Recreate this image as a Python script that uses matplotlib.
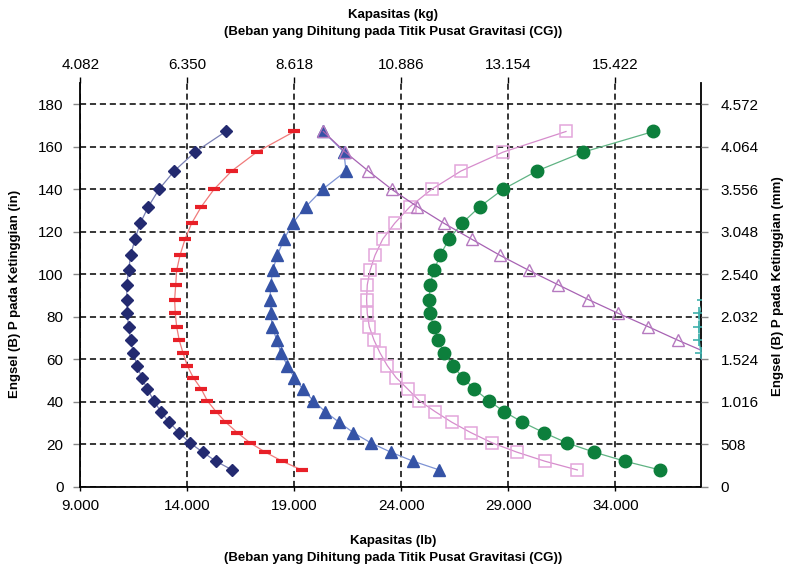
import matplotlib
matplotlib.use("Agg")
import matplotlib.pyplot as plt

# hinge heights (in) shared by all load curves, bottom to top
heights = [7.9, 12.0, 16.3, 20.6, 25.5, 30.4, 35.4, 40.5, 46.0, 51.4, 57.0, 63.0, 69.0,
           75.3, 81.6, 88.1, 95.0, 101.8, 108.9, 116.5, 124.0, 131.8, 140.0, 148.6,
           157.5, 167.2]

# capacity (lb) per curve at each height
cap_navy = [16100, 15340, 14720, 14130, 13610, 13160, 12760, 12440, 12130, 11870, 11660,
            11480, 11355, 11260, 11195, 11180, 11170, 11260, 11355, 11555, 11805, 12180,
            12680, 13390, 14360, 15795]
cap_red = [19350, 18440, 17645, 16945, 16335, 15795, 15340, 14935, 14655, 14280, 14000,
           13800, 13625, 13505, 13440, 13410, 13460, 13505, 13660, 13895, 14205, 14655,
           15250, 16075, 17245, 19000]
cap_blue = [25780, 24560, 23505, 22585, 21755, 21090, 20435, 19890, 19395, 19000, 18675,
            18380, 18180, 17975, 17900, 17865, 17900, 17990, 18205, 18520, 18925, 19535,
            20325, 21415, 21320, 20355]
cap_pink = [32225, 30715, 29395, 28255, 27245, 26355, 25575, 24840, 24300, 23755, 23345,
            23005, 22725, 22505, 22410, 22380, 22410, 22540, 22770, 23130, 23690, 24405,
            25420, 26790, 28755, 31695]
cap_green = [36090, 34455, 33005, 31745, 30655, 29655, 28800, 28085, 27410, 26870, 26400,
             26010, 25700, 25515, 25340, 25310, 25340, 25530, 25810, 26230, 26835, 27665,
             28755, 30330, 32505, 35775]

heights_purple = [63.0, 69.0, 75.3, 81.6, 88.1, 95.0, 101.8, 108.9, 116.5, 124.0, 131.8,
                  140.0, 148.6, 157.5, 167.2]
cap_purple = [38300, 36915, 35545, 34140, 32740, 31340, 29970, 28615, 27290, 25995, 24750,
              23550, 22460, 21380, 20355]

heights_teal = [63.0, 69.0, 75.3, 81.6, 88.1]
cap_teal = [37990, 37920, 37900, 37930, 38100]

# axis ticks and labels
lb_ticks = [9000, 14000, 19000, 24000, 29000, 34000]
lb_labels = ["9.000", "14.000", "19.000", "24.000", "29.000", "34.000"]
kg_labels = ["4.082", "6.350", "8.618", "10.886", "13.154", "15.422"]
in_ticks = [0, 20, 40, 60, 80, 100, 120, 140, 160, 180]
in_labels = [str(v) for v in in_ticks]
mm_labels = ["0", "508", "1.016", "1.524", "2.032", "2.540", "3.048", "3.556", "4.064", "4.572"]

plt.rcParams["font.family"] = ["Liberation Sans", "DejaVu Sans"]

fig = plt.figure(figsize=(7.89, 5.65), dpi=100)
ax = fig.add_axes([0.1017, 0.1385, 0.7867, 0.7145])

ax.set_xlim(9000, 38000)
ax.set_ylim(0, 190)

ax.grid(True, color="black", linestyle=(0, (4, 2.5)), linewidth=1.1, zorder=1)
ax.set_axisbelow(True)

series = [
    (cap_navy, heights, "#7a80b4", dict(marker="D", ms=6, mfc="#232a70", mec="#232a70")),
    (cap_red, heights, "#f07a7a", dict(marker="_", ms=9, mew=3, mec="#e82028")),
    (cap_blue, heights, "#7d93d4", dict(marker="^", ms=8, mfc="#3553a6", mec="#3553a6")),
    (cap_pink, heights, "#d68ccc", dict(marker="s", ms=8, mfc="none", mec="#e3a6db", mew=1.1)),
    (cap_green, heights, "#5fb383", dict(marker="o", ms=9, mfc="#0d7f3c", mec="#0d7f3c")),
    (cap_purple, heights_purple, "#a762b3", dict(marker="^", ms=9, mfc="none", mec="#b67ac0", mew=1.0)),
    (cap_teal, heights_teal, "#5ab9b5", dict(marker="+", ms=8, mew=1.2, mec="#3fb0ac")),
]
for xs, ys, lc, mk in series:
    ax.plot(xs, ys, color=lc, linewidth=0.9, zorder=3, **mk)

ax.set_xticks(lb_ticks)
ax.set_xticklabels(lb_labels)
ax.set_yticks(in_ticks)
ax.set_yticklabels(in_labels)
ax.tick_params(axis="both", labelsize=11, length=5, width=1, color="#888888")
ax.tick_params(axis="x", pad=6, color="black", length=3)
ax.tick_params(axis="y", pad=7)

for side in ["left", "bottom", "right"]:
    ax.spines[side].set_color("black")
    ax.spines[side].set_linewidth(1.3)
ax.spines["top"].set_visible(False)

# kilogram scale on top
ax_top = ax.twiny()
ax_top.set_xlim(ax.get_xlim())
ax_top.set_xticks(lb_ticks)
ax_top.set_xticklabels(kg_labels)
ax_top.tick_params(axis="x", labelsize=11, length=4, width=1, pad=4, color="black")
for s in ax_top.spines.values():
    s.set_visible(False)

# millimetre scale on the right
ax_right = ax.twinx()
ax_right.set_ylim(ax.get_ylim())
ax_right.set_yticks(in_ticks)
ax_right.set_yticklabels(mm_labels)
ax_right.tick_params(axis="y", labelsize=11, length=5, width=1, pad=9, color="#888888")
for s in ax_right.spines.values():
    s.set_visible(False)

bold = dict(fontweight="bold", fontsize=9.5)
fig.text(0.498, 0.974, "Kapasitas (kg)", ha="center", va="center", **bold)
fig.text(0.498, 0.944, "(Beban yang Dihitung pada Titik Pusat Gravitasi (CG))",
         ha="center", va="center", **bold)
fig.text(0.498, 0.042, "Kapasitas (lb)", ha="center", va="center", **bold)
fig.text(0.498, 0.013, "(Beban yang Dihitung pada Titik Pusat Gravitasi (CG))",
         ha="center", va="center", **bold)
fig.text(0.019, 0.48, "Engsel (B) P pada Ketinggian (in)", rotation=90,
         ha="center", va="center", **bold)
fig.text(0.986, 0.494, "Engsel (B) P pada Ketinggian (mm)", rotation=90,
         ha="center", va="center", **bold)

fig.savefig("out.png", dpi=100)
